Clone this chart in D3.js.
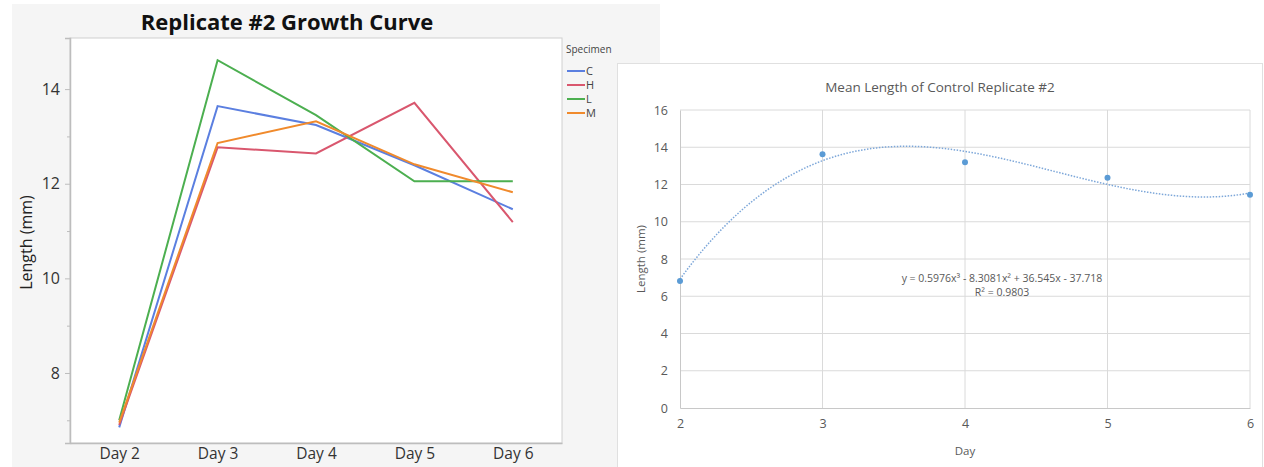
<!DOCTYPE html>
<html>
<head>
<meta charset="utf-8">
<script src="https://d3js.org/d3.v7.min.js"></script>
<style>
  body { margin: 0; background: #fff; }
  svg { display: block; }
</style>
</head>
<body>
<div id="chart"></div>
<script>
// left chart data (JMP growth curve)
const days = ["Day 2", "Day 3", "Day 4", "Day 5", "Day 6"];
const specimens = ["C", "H", "L", "M"];
const lenC = [6.85, 13.64, 13.24, 12.39, 11.46];
const lenH = [6.9, 12.77, 12.64, 13.71, 11.19];
const lenL = [7.0, 14.61, 13.45, 12.05, 12.05];
const lenM = [6.95, 12.86, 13.32, 12.41, 11.82];
const leftTicks = [8, 10, 12, 14];
const leftMinor = [7, 9, 11, 13];

// right chart data (Excel scatter + cubic trendline)
const meanDays = [2, 3, 4, 5, 6];
const meanLen = [6.82, 13.62, 13.2, 12.36, 11.45];
const trendCoef = [0.5976, -8.3081, 36.545, -37.718]; // x^3, x^2, x, const
const rightYTicks = [0, 2, 4, 6, 8, 10, 12, 14, 16];
const rightXTicks = [2, 3, 4, 5, 6];

const colors = { C: "#5b7fe0", H: "#d9576e", L: "#4caf50", M: "#f08a2c" };
const series = [
    { name: "C", values: lenC },
    { name: "H", values: lenH },
    { name: "L", values: lenL },
    { name: "M", values: lenM }
];

const W = 1264, H = 467;
const svg = d3.select("#chart").append("svg")
    .attr("width", W)
    .attr("height", H);

// ---------- left panel ----------
svg.append("rect")
    .attr("x", 12).attr("y", 4)
    .attr("width", 648).attr("height", H - 4)
    .attr("fill", "#f5f5f5");

const lp = { left: 70, top: 38, right: 562, bottom: 443 };

svg.append("rect")
    .attr("x", lp.left).attr("y", lp.top)
    .attr("width", lp.right - lp.left).attr("height", lp.bottom - lp.top)
    .attr("fill", "#fff")
    .attr("stroke", "#d0d0d0");

const xL = d3.scalePoint()
    .domain(days)
    .range([lp.left, lp.right])
    .padding(0.5);

const yL = d3.scaleLinear()
    .domain([6.52, 15.08])
    .range([lp.bottom, lp.top]);

// y axis
const yAxisL = svg.append("g")
    .attr("transform", `translate(${lp.left},0)`)
    .call(d3.axisLeft(yL).tickValues(leftTicks).tickSize(5).tickFormat(d3.format("d")));
yAxisL.select(".domain").attr("stroke", "#bdbdbd").attr("stroke-width", 1.5);
yAxisL.selectAll(".tick line").attr("stroke", "#bdbdbd");
yAxisL.selectAll("text")
    .attr("font-family", "Open Sans, sans-serif")
    .attr("font-size", 16)
    .attr("fill", "#333")
    .attr("dx", "-2");

svg.append("g")
    .attr("transform", `translate(${lp.left},0)`)
    .call(d3.axisLeft(yL).tickValues(leftMinor).tickSize(3).tickFormat(""))
    .call(g => g.select(".domain").remove())
    .selectAll(".tick line").attr("stroke", "#bdbdbd");

// x axis
const xAxisL = svg.append("g")
    .attr("transform", `translate(0,${lp.bottom})`)
    .call(d3.axisBottom(xL).tickSize(0).tickPadding(5));
xAxisL.select(".domain").attr("stroke", "#bdbdbd").attr("stroke-width", 1.5);
xAxisL.selectAll("text")
    .attr("font-family", "Open Sans, sans-serif")
    .attr("font-size", 15.5)
    .attr("fill", "#333");

svg.append("text")
    .attr("transform", `translate(32,${(lp.top + lp.bottom) / 2 + 2}) rotate(-90)`)
    .attr("text-anchor", "middle")
    .attr("font-family", "Open Sans, sans-serif")
    .attr("font-size", 16)
    .attr("fill", "#222")
    .text("Length (mm)");

svg.append("text")
    .attr("x", 287).attr("y", 30)
    .attr("text-anchor", "middle")
    .attr("font-family", "Open Sans, sans-serif")
    .attr("font-weight", "bold")
    .attr("font-size", 22)
    .attr("fill", "#111")
    .text("Replicate #2 Growth Curve");

const lineL = d3.line()
    .x((d, i) => xL(days[i]))
    .y(d => yL(d));

svg.append("g").selectAll("path")
    .data(series)
    .join("path")
    .attr("fill", "none")
    .attr("stroke", d => colors[d.name])
    .attr("stroke-width", 2)
    .attr("d", d => lineL(d.values));

// legend
const leg = svg.append("g").attr("transform", "translate(566,53)");
leg.append("text")
    .attr("x", 0).attr("y", 0)
    .attr("font-family", "Open Sans, sans-serif")
    .attr("font-size", 10)
    .attr("fill", "#444")
    .text("Specimen");
const legItem = leg.selectAll("g.item")
    .data(specimens)
    .join("g")
    .attr("class", "item")
    .attr("transform", (d, i) => `translate(0,${18 + i * 14})`);
legItem.append("line")
    .attr("x1", 1).attr("x2", 19)
    .attr("stroke", d => colors[d])
    .attr("stroke-width", 2);
legItem.append("text")
    .attr("x", 20).attr("y", 4)
    .attr("font-family", "Open Sans, sans-serif")
    .attr("font-size", 11)
    .attr("fill", "#444")
    .text(d => d);

// ---------- right panel ----------
svg.append("rect")
    .attr("x", 617.5).attr("y", 63.5)
    .attr("width", 645).attr("height", H - 63)
    .attr("fill", "#fff")
    .attr("stroke", "#e0e0e0");

const rp = { left: 680, top: 110, right: 1250, bottom: 408 };

const xR = d3.scaleLinear().domain([2, 6]).range([rp.left, rp.right]);
const yR = d3.scaleLinear().domain([0, 16]).range([rp.bottom, rp.top]);

// gridlines
svg.append("g").selectAll("line")
    .data(rightYTicks.slice(1))
    .join("line")
    .attr("x1", rp.left).attr("x2", rp.right)
    .attr("y1", d => yR(d)).attr("y2", d => yR(d))
    .attr("stroke", "#dadada");
svg.append("g").selectAll("line")
    .data(rightXTicks.slice(1))
    .join("line")
    .attr("x1", d => xR(d)).attr("x2", d => xR(d))
    .attr("y1", rp.top).attr("y2", rp.bottom)
    .attr("stroke", "#dadada");

const yAxisR = svg.append("g")
    .attr("transform", `translate(${rp.left},0)`)
    .call(d3.axisLeft(yR).tickValues(rightYTicks).tickSize(0).tickPadding(12));
yAxisR.select(".domain").attr("stroke", "#c8c8c8");
yAxisR.selectAll("text")
    .attr("font-family", "Open Sans, sans-serif")
    .attr("font-size", 12.5)
    .attr("fill", "#595959");

const xAxisR = svg.append("g")
    .attr("transform", `translate(0,${rp.bottom})`)
    .call(d3.axisBottom(xR).tickValues(rightXTicks).tickSize(0).tickPadding(11).tickFormat(d3.format("d")));
xAxisR.select(".domain").attr("stroke", "#c8c8c8");
xAxisR.selectAll("text")
    .attr("font-family", "Open Sans, sans-serif")
    .attr("font-size", 12.5)
    .attr("fill", "#595959");

svg.append("text")
    .attr("x", 940).attr("y", 92)
    .attr("text-anchor", "middle")
    .attr("font-family", "Open Sans, sans-serif")
    .attr("font-size", 13.5)
    .attr("fill", "#595959")
    .text("Mean Length of Control Replicate #2");

svg.append("text")
    .attr("x", 965).attr("y", 455)
    .attr("text-anchor", "middle")
    .attr("font-family", "Open Sans, sans-serif")
    .attr("font-size", 11.5)
    .attr("fill", "#595959")
    .text("Day");

svg.append("text")
    .attr("transform", `translate(645,${(rp.top + rp.bottom) / 2}) rotate(-90)`)
    .attr("text-anchor", "middle")
    .attr("font-family", "Open Sans, sans-serif")
    .attr("font-size", 11.5)
    .attr("fill", "#595959")
    .text("Length (mm)");

// trendline from the printed coefficients
const poly = x => trendCoef[0] * x * x * x + trendCoef[1] * x * x + trendCoef[2] * x + trendCoef[3];
const trendX = d3.range(2, 6.001, 0.02);
svg.append("path")
    .attr("fill", "none")
    .attr("stroke", "#7da7d9")
    .attr("stroke-width", 1.5)
    .attr("stroke-dasharray", "1.5,1.5")
    .attr("d", d3.line().x(d => xR(d)).y(d => yR(poly(d)))(trendX));

svg.append("g").selectAll("circle")
    .data(meanDays)
    .join("circle")
    .attr("cx", d => xR(d))
    .attr("cy", (d, i) => yR(meanLen[i]))
    .attr("r", 3)
    .attr("fill", "#5b9bd5");

const eq = svg.append("text")
    .attr("font-family", "Open Sans, sans-serif")
    .attr("font-size", 10.5)
    .attr("fill", "#595959")
    .attr("text-anchor", "middle");
eq.append("tspan").attr("x", 1002).attr("y", 282)
    .text("y = 0.5976x³ - 8.3081x² + 36.545x - 37.718");
eq.append("tspan").attr("x", 1002).attr("y", 296)
    .text("R² = 0.9803");
</script>
</body>
</html>
